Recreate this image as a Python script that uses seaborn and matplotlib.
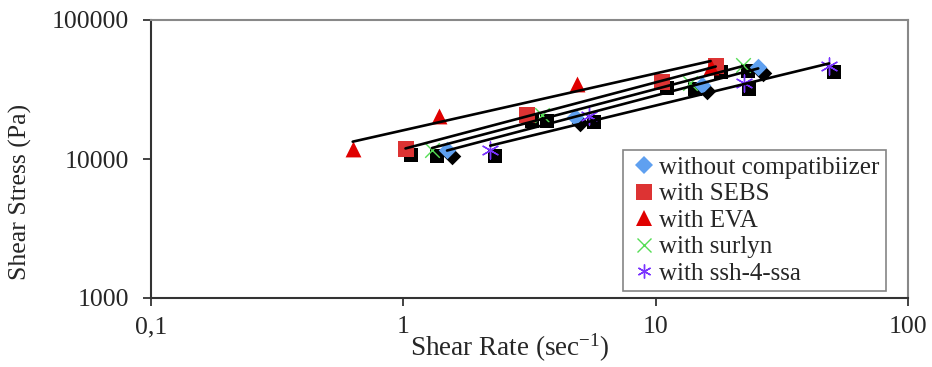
import numpy as np
import pandas as pd
import matplotlib
matplotlib.use("Agg")
import matplotlib.pyplot as plt
import matplotlib.transforms as mtransforms
from matplotlib.lines import Line2D
import seaborn as sns

# ---- data ----
labels = ["without compatibiizer", "with SEBS", "with EVA", "with surlyn", "with ssh-4-ssa"]
x_without = [1.49, 4.79, 15.2, 25.5]
y_without = [11600, 20000, 34100, 45900]
x_sebs = [1.02, 3.09, 10.6, 17.3]
y_sebs = [11800, 20700, 35800, 46700]
x_eva = [0.63, 1.39, 4.87, 16.5]
y_eva = [11800, 20400, 34600, 45900]
x_surlyn = [1.30, 3.54, 13.7, 22.1]
y_surlyn = [11600, 20700, 35200, 47400]
x_ssh = [2.21, 5.44, 22.3, 48.7]
y_ssh = [11600, 20400, 35200, 46700]
x_ticks = [0.1, 1, 10, 100]
x_ticklabels = ["0,1", "1", "10", "100"]
y_ticks = [1000, 10000, 100000]
y_ticklabels = ["1000", "10000", "100000"]

series_x = [x_without, x_sebs, x_eva, x_surlyn, x_ssh]
series_y = [y_without, y_sebs, y_eva, y_surlyn, y_ssh]

rows = []
for lab, xs, ys in zip(labels, series_x, series_y):
    for a, b in zip(xs, ys):
        rows.append({"series": lab, "rate": a, "stress": b})
df = pd.DataFrame(rows)

sns.set_style("white")
plt.rcParams["font.family"] = ["Liberation Serif", "DejaVu Serif"]
plt.rcParams["mathtext.fontset"] = "custom"
plt.rcParams["mathtext.rm"] = "Liberation Serif"
plt.rcParams["mathtext.default"] = "regular"

fig = plt.figure(figsize=(9.32, 3.67), dpi=100)
ax = fig.add_axes([151 / 932, 1 - 298 / 367, (908 - 151) / 932, (298 - 20) / 367])
ax.set_xscale("log")
ax.set_yscale("log")
ax.set_xlim(0.1, 100)
ax.set_ylim(1000, 100000)

styles = {
    "without compatibiizer": dict(marker="D", color="#5FA0F0", s=80, shadow="D"),
    "with SEBS": dict(marker="s", color="#DD3333", s=130, shadow="s"),
    "with EVA": dict(marker="^", color="#E00000", s=130, shadow=None),
    "with surlyn": dict(marker="x", color="#55DD55", s=110, shadow="s"),
    "with ssh-4-ssa": dict(marker=(6, 2, 0), color="#7A33FF", s=150, shadow="s"),
}

shadow_tr = mtransforms.offset_copy(ax.transData, fig=fig, x=5, y=-6, units="dots")

# shadows
for lab in labels:
    st = styles[lab]
    if st["shadow"] is None:
        continue
    sub = df[df["series"] == lab]
    sns.scatterplot(data=sub, x="rate", y="stress", ax=ax, marker=st["shadow"],
                    color="black", s=110 if st["shadow"] == "s" else 80,
                    linewidth=0, transform=shadow_tr, zorder=2, legend=False)

# main markers
handles = []
for lab in labels:
    st = styles[lab]
    sub = df[df["series"] == lab]
    if st["marker"] in ("x",) or isinstance(st["marker"], tuple):
        sns.scatterplot(data=sub, x="rate", y="stress", ax=ax, marker=st["marker"],
                        color=st["color"], s=st["s"], linewidth=1.0, zorder=3, legend=False)
        handles.append(Line2D([], [], linestyle="none", marker=st["marker"],
                              color=st["color"], markersize=10, markeredgewidth=1.0))
    else:
        sns.scatterplot(data=sub, x="rate", y="stress", ax=ax, marker=st["marker"],
                        color=st["color"], s=st["s"], linewidth=0, zorder=3, legend=False)
        handles.append(Line2D([], [], linestyle="none", marker=st["marker"],
                              color=st["color"], markeredgewidth=0,
                              markersize=9 if st["marker"] == "D" else 11))

# power-law trendlines
for xs, ys in zip(series_x, series_y):
    lx, ly = np.log10(xs), np.log10(ys)
    k, c = np.polyfit(lx, ly, 1)
    xx = np.array([min(xs), max(xs)])
    ax.plot(xx, 10 ** (c + k * np.log10(xx)), color="black", lw=1.9, zorder=4)

ax.set_xticks(x_ticks)
ax.set_xticklabels(x_ticklabels)
ax.set_yticks(y_ticks)
ax.set_yticklabels(y_ticklabels)
ax.minorticks_off()
ax.tick_params(axis="both", which="major", labelsize=18.5, direction="out",
               length=6, width=1.2, color="#222222", left=True, bottom=True)
ax.tick_params(axis="y", pad=10)
ax.tick_params(axis="x", pad=7)

for side in ["left", "bottom"]:
    ax.spines[side].set_color("#333333")
    ax.spines[side].set_linewidth(1.5)
for side in ["top", "right"]:
    ax.spines[side].set_color("#888888")
    ax.spines[side].set_linewidth(1.5)
    ax.spines[side].set_visible(True)

ax.set_xlabel("Shear Rate (sec$^{-1}$)", fontsize=19.5)
ax.set_ylabel("Shear Stress (Pa)", fontsize=18.5)
ax.xaxis.set_label_coords(0.474, -0.12)
ax.xaxis.label.set_va("top")
ax.yaxis.set_label_coords(-0.157, 0.381)

leg = ax.legend(handles, labels, loc="lower right", bbox_to_anchor=(0.971, 0.025),
                fontsize=18, frameon=True, fancybox=False, handlelength=1.15,
                handletextpad=0.05, labelspacing=0.16, borderpad=0.25,
                borderaxespad=0)
leg.get_frame().set_edgecolor("#666666")
leg.get_frame().set_linewidth(1.2)
leg.set_zorder(5)

fig.savefig("out.png", dpi=100)
